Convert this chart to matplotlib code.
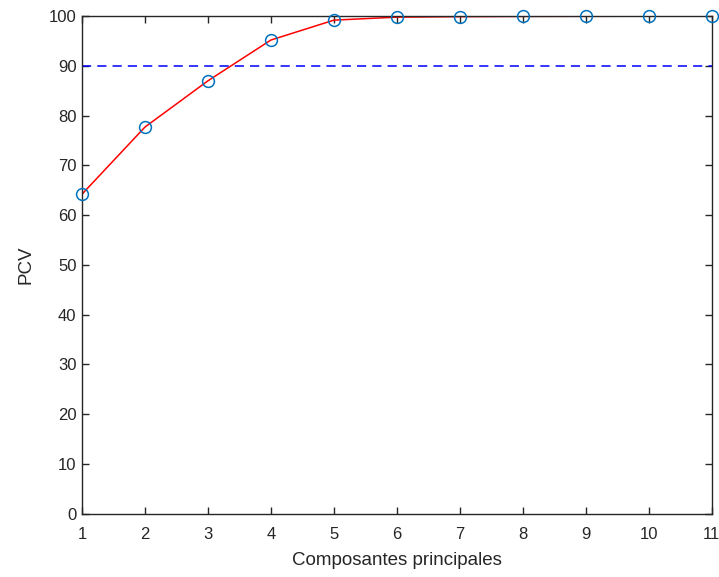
import numpy as np
import matplotlib.pyplot as plt

plt.rcParams['font.family'] = ['Liberation Sans', 'DejaVu Sans']

composantes = np.arange(1, 12)
pcv = [64.2, 77.7, 87.0, 95.2, 99.2, 99.8, 99.9, 99.95, 99.97, 99.99, 100.0]
seuil = 90

fig = plt.figure(figsize=(7.19, 5.77), dpi=100)
ax = fig.add_axes([0.114, 0.110, 0.876, 0.862])

ax.plot(composantes, pcv, color='red', lw=1.1, zorder=2)
ax.plot(composantes, pcv, 'o', mfc='none', mec='#0072BD', ms=8.5, mew=1.1,
        clip_on=False, zorder=3)
ax.plot([composantes[0], composantes[-1]], [seuil, seuil], '--', color='blue',
        lw=1.1, dashes=(6, 4), zorder=2)

ax.set_xlim(1, 11)
ax.set_ylim(0, 100)
ax.set_xticks(composantes)
ax.set_yticks(np.arange(0, 101, 10))
ax.tick_params(direction='in', length=5, width=1, colors='0.15', labelsize=12,
               top=True, right=True)
ax.tick_params(axis='x', pad=10)
ax.tick_params(axis='y', pad=4)
for s in ax.spines.values():
    s.set_color('0.15')
    s.set_linewidth(1)

ax.set_xlabel('Composantes principales', fontsize=13.5, color='0.15', labelpad=7)
ax.set_ylabel('PCV', fontsize=13.5, color='0.15', labelpad=10)

fig.savefig('out.png', dpi=100)
